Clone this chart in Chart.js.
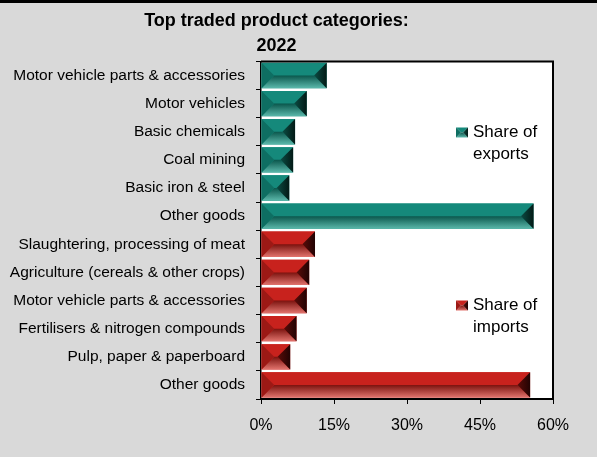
<!DOCTYPE html>
<html>
<head>
<meta charset="utf-8">
<script src="https://cdn.jsdelivr.net/npm/chart.js@4/dist/chart.umd.min.js"></script>
<style>
  html, body { margin: 0; padding: 0; background: #d9d9d9; }
  #wrap { width: 597px; height: 457px; }
</style>
</head>
<body>
<div id="wrap"><canvas id="chart" width="597" height="457"></canvas></div>
<script>
// Categories, top to bottom
const categories = [
  'Motor vehicle parts & accessories',
  'Motor vehicles',
  'Basic chemicals',
  'Coal mining',
  'Basic iron & steel',
  'Other goods',
  'Slaughtering, processing of meat',
  'Agriculture (cereals & other crops)',
  'Motor vehicle parts & accessories ',
  'Fertilisers & nitrogen compounds',
  'Pulp, paper & paperboard',
  'Other goods '
];

// Share of exports / imports (%)
const exportShare = [13.5, 9.4, 7.0, 6.6, 5.8, 56.0, null, null, null, null, null, null];
const importShare = [null, null, null, null, null, null, 11.1, 9.9, 9.4, 7.3, 6.0, 55.3];

const titleLines = ['Top traded product categories:', '2022'];
const legendLabels = [['Share of', 'exports'], ['Share of', 'imports']];

const FONT = "'Liberation Sans', Arial, sans-serif";

const palettes = [
  { base: '#15897b', top: '#15897b', midDark: '#0a564c', bottom: '#5bb8ab', left: '#0e6e62', rightIn: '#0b4c43', rightOut: '#031a16' },
  { base: '#c8221d', top: '#c8221d', midDark: '#7a120e', bottom: '#e2736d', left: '#9c1915', rightIn: '#5a0c09', rightOut: '#220303' }
];

// draws the bevelled "pyramid" look of a bar
function bevel(ctx, x0, x1, top, bottom, p) {
  const h = bottom - top;
  const mid = top + h / 2;
  const d = Math.min(h / 2, (x1 - x0) / 2);

  // top face
  ctx.fillStyle = p.top;
  ctx.beginPath();
  ctx.moveTo(x0, top); ctx.lineTo(x1, top); ctx.lineTo(x1 - d, mid); ctx.lineTo(x0 + d, mid);
  ctx.closePath(); ctx.fill();

  // bottom face
  const g = ctx.createLinearGradient(0, mid, 0, bottom);
  g.addColorStop(0, p.midDark);
  g.addColorStop(1, p.bottom);
  ctx.fillStyle = g;
  ctx.beginPath();
  ctx.moveTo(x0 + d, mid); ctx.lineTo(x1 - d, mid); ctx.lineTo(x1, bottom); ctx.lineTo(x0, bottom);
  ctx.closePath(); ctx.fill();

  // left face
  ctx.fillStyle = p.left;
  ctx.beginPath();
  ctx.moveTo(x0, top); ctx.lineTo(x0 + d, mid); ctx.lineTo(x0, bottom);
  ctx.closePath(); ctx.fill();

  // right face
  const gr = ctx.createLinearGradient(x1 - d, 0, x1, 0);
  gr.addColorStop(0, p.rightIn);
  gr.addColorStop(1, p.rightOut);
  ctx.fillStyle = gr;
  ctx.beginPath();
  ctx.moveTo(x1, top); ctx.lineTo(x1 - d, mid); ctx.lineTo(x1, bottom);
  ctx.closePath(); ctx.fill();
}

const framePlugin = {
  id: 'frame',
  beforeDraw(chart) {
    const { ctx, chartArea: a } = chart;
    ctx.save();
    ctx.fillStyle = '#d9d9d9';
    ctx.fillRect(0, 0, chart.width, chart.height);
    ctx.fillStyle = '#000';
    ctx.fillRect(0, 0, chart.width, 3);
    ctx.fillStyle = '#fff';
    ctx.fillRect(a.left, a.top, a.right - a.left, a.bottom - a.top);
    ctx.restore();
  },
  afterDatasetsDraw(chart) {
    const ctx = chart.ctx;
    ctx.save();
    chart.data.datasets.forEach((ds, i) => {
      chart.getDatasetMeta(i).data.forEach((bar, j) => {
        if (ds.data[j] == null) return;
        const h = bar.height;
        bevel(ctx, Math.min(bar.base, bar.x), Math.max(bar.base, bar.x), bar.y - h / 2, bar.y + h / 2, palettes[i]);
      });
    });

    // plot border on top and right
    const a = chart.chartArea;
    ctx.strokeStyle = '#000';
    ctx.lineWidth = 2;
    ctx.beginPath();
    ctx.moveTo(a.left, a.top); ctx.lineTo(a.right, a.top); ctx.lineTo(a.right, a.bottom);
    ctx.stroke();

    // legends inside the plot
    const spots = [a.top + 71, a.top + 244];
    ctx.font = '17px ' + FONT;
    ctx.textBaseline = 'middle';
    ctx.textAlign = 'left';
    spots.forEach((y, i) => {
      const bx = a.left + 195;
      bevel(ctx, bx, bx + 12, y - 5, y + 5, palettes[i]);
      ctx.fillStyle = '#000';
      ctx.fillText(legendLabels[i][0], bx + 17, y);
      ctx.fillText(legendLabels[i][1], bx + 17, y + 22);
    });
    ctx.restore();
  }
};

new Chart(document.getElementById('chart'), {
  type: 'bar',
  data: {
    labels: categories,
    datasets: [
      { label: 'Share of exports', data: exportShare, backgroundColor: palettes[0].base },
      { label: 'Share of imports', data: importShare, backgroundColor: palettes[1].base }
    ]
  },
  options: {
    indexAxis: 'y',
    responsive: false,
    animation: false,
    barPercentage: 0.9,
    categoryPercentage: 1,
    layout: { padding: { top: 8, right: 44, left: 0, bottom: 0 } },
    plugins: {
      legend: { display: false },
      tooltip: { enabled: false },
      title: {
        display: true,
        text: titleLines,
        color: '#000',
        font: { family: FONT, size: 18, weight: 'bold', lineHeight: 1.4 },
        padding: { top: 0, bottom: 3 }
      }
    },
    scales: {
      x: {
        min: 0,
        max: 60,
        stacked: true,
        ticks: {
          stepSize: 15,
          color: '#000',
          padding: 12,
          font: { family: FONT, size: 16 },
          callback: (v) => v + '%'
        },
        grid: { drawOnChartArea: false, color: '#000', tickLength: 5 },
        border: { color: '#000', width: 2 },
        afterFit: (s) => { s.height = 58; }
      },
      y: {
        stacked: true,
        ticks: {
          color: '#000',
          padding: 11,
          autoSkip: false,
          font: { family: FONT, size: 15.5 },
          callback: function (v) { return this.getLabelForValue(v).trim(); }
        },
        grid: { drawOnChartArea: false, color: '#000', tickLength: 5, offset: true },
        border: { color: '#000', width: 1.5 },
        afterFit: (s) => { s.width = 261; }
      }
    }
  },
  plugins: [framePlugin]
});
</script>
</body>
</html>
